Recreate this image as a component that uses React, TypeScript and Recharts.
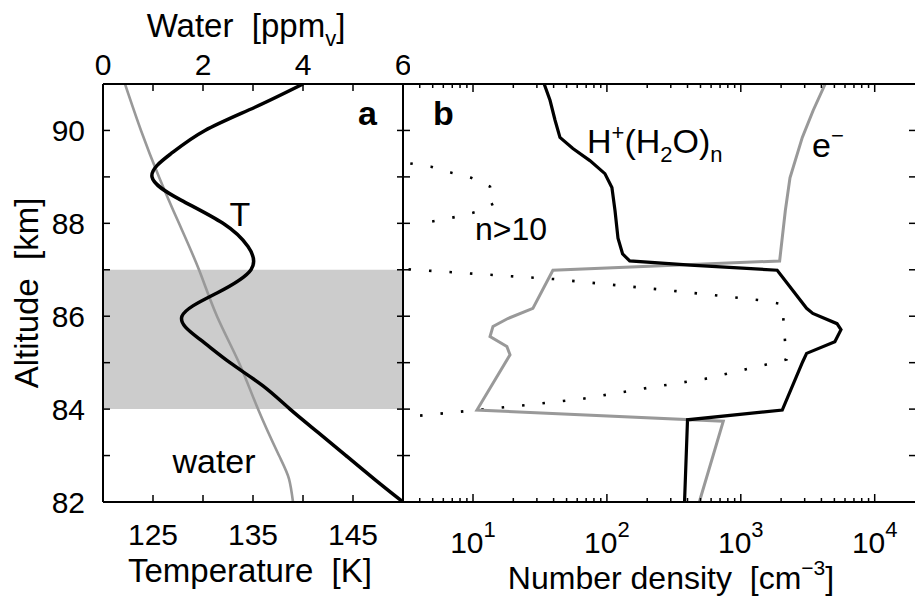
import React from "react";
import { LineChart, Line, XAxis, YAxis, ReferenceArea } from "recharts";

const FONT = '"Liberation Sans", Arial, Helvetica, sans-serif';

// shared altitude axis [km]
const ALT_DOMAIN: [number, number] = [82, 91];
const ALT_TICKS = [82, 83, 84, 85, 86, 87, 88, 89, 90];
const ALT_LABELS = [82, 84, 86, 88, 90];

// panel a axes
const TEMP_DOMAIN: [number, number] = [120, 150];
const TEMP_TICKS = [125, 130, 135, 140, 145];
const TEMP_LABELS = [125, 135, 145];
const WATER_DOMAIN: [number, number] = [0, 6];
const WATER_TICKS = [0, 1, 2, 3, 4, 5, 6];
const WATER_LABELS = [0, 2, 4, 6];
const PARTICLE_LAYER = [84, 87];

// temperature profile [K]
const T_ALT = [91, 90.5, 90, 89.5, 89, 88.5, 88, 87.5, 87, 86.5, 86, 85.5, 85, 84.5, 84, 83.5, 83, 82.5, 82];
const T_VAL = [140, 135.2, 130.2, 126.8, 124.9, 127.8, 132, 134.5, 134.8, 131.4, 127.9, 129.7, 132.7, 136, 138.7, 141.5, 144.3, 147.1, 150];

// water vapour [ppmv]
const W_ALT = [91, 90, 89, 88, 87, 86, 85, 84, 83, 82.5, 82];
const W_VAL = [0.44, 0.76, 1.12, 1.52, 1.92, 2.28, 2.72, 3.1, 3.52, 3.72, 3.8];

// panel b axis (log)
const DENS_DOMAIN: [number, number] = [3, 20000];
const DENS_MAJOR = [10, 100, 1000, 10000];
const DENS_MINOR = [4, 5, 6, 7, 8, 9, 20, 30, 40, 50, 60, 70, 80, 90, 200, 300, 400, 500, 600, 700, 800, 900, 2000, 3000, 4000, 5000, 6000, 7000, 8000, 9000];

// H+(H2O)n [cm^-3]
const ION_ALT = [91, 90.65, 90.22, 89.85, 89.61, 89.35, 89.07, 88.77, 88.27, 87.68, 87.34, 87.19, 87.1, 86.99, 86.17, 86.06, 85.84, 85.71, 85.45, 85.2, 85.02, 83.98, 83.77, 82];
const ION_VAL = [34, 37.6, 41, 44.6, 55.7, 74.6, 96.6, 109, 115, 121, 131, 148, 420, 1870, 3100, 3450, 5230, 5600, 5040, 3100, 2900, 2040, 400, 380];

// electrons [cm^-3]
const E_ALT = [91, 90.43, 89.85, 88.98, 88.27, 87.19, 86.99, 86.17, 85.95, 85.78, 85.56, 85.35, 85.17, 83.98, 83.74, 82];
const E_VAL = [4270, 3470, 2880, 2330, 2150, 1950, 39.5, 28, 18.2, 14.1, 13.4, 17.9, 18.9, 10.7, 740, 490];

// n>10 clusters, two dotted pieces
const N1_ALT = [89.29, 89.22, 89.09, 88.98, 88.79, 88.44, 88.25, 88.14, 88.05, 87.97];
const N1_VAL = [3.4, 4.85, 6.9, 9.7, 13.4, 14.6, 10.7, 7.5, 5.2, 3.7];
const N2_ALT = [87.01, 86.8, 86.54, 86.34, 86.26, 85.07, 84.96, 84.65, 84.44, 84.22, 84.07, 83.98, 83.85];
const N2_VAL = [3.3, 40, 330, 1450, 2040, 2190, 1550, 537, 186, 65, 22, 10.7, 3.7];

const zip = (alt: number[], v: number[]) => alt.map((a, i) => ({ alt: a, v: v[i] }));

const tempData = zip(T_ALT, T_VAL);
const waterData = zip(W_ALT, W_VAL);
const ionData = zip(ION_ALT, ION_VAL);
const elecData = zip(E_ALT, E_VAL);
const n1Data = zip(N1_ALT, N1_VAL);
const n2Data = zip(N2_ALT, N2_VAL);

const AXIS_LINE = { stroke: "#000", strokeWidth: 2 };
const TICK_FONT = 30;

// custom ticks: matlab style, pointing into the plot, labels outside
const leftTick = (labels: number[]) => (p: any) => (
  <g>
    <line x1={p.x} y1={p.y} x2={p.x + 7} y2={p.y} stroke="#000" strokeWidth={1.5} />
    {labels.includes(p.payload.value) && (
      <text x={p.x - 18} y={p.y} dy="0.36em" textAnchor="end" fontSize={TICK_FONT} fontFamily={FONT} fill="#000">
        {p.payload.value}
      </text>
    )}
  </g>
);

const rightTick = (p: any) => (
  <line x1={p.x} y1={p.y} x2={p.x - 6} y2={p.y} stroke="#000" strokeWidth={1.5} />
);

const bottomTick = (labels: number[]) => (p: any) => (
  <g>
    <line x1={p.x} y1={p.y} x2={p.x} y2={p.y - 7} stroke="#000" strokeWidth={1.5} />
    {labels.includes(p.payload.value) && (
      <text x={p.x} y={p.y + 43} textAnchor="middle" fontSize={TICK_FONT} fontFamily={FONT} fill="#000">
        {p.payload.value}
      </text>
    )}
  </g>
);

const topTick = (labels: number[]) => (p: any) => (
  <g>
    <line x1={p.x} y1={p.y} x2={p.x} y2={p.y + 7} stroke="#000" strokeWidth={1.5} />
    {labels.includes(p.payload.value) && (
      <text x={p.x} y={p.y - 9} textAnchor="middle" fontSize={TICK_FONT} fontFamily={FONT} fill="#000">
        {p.payload.value}
      </text>
    )}
  </g>
);

const logBottomTick = (p: any) => {
  const v = p.payload.value;
  const major = DENS_MAJOR.includes(v);
  return (
    <g>
      <line x1={p.x} y1={p.y} x2={p.x} y2={p.y - (major ? 8 : 4)} stroke="#000" strokeWidth={1.5} />
      {major && (
        <text x={p.x} y={p.y + 51} textAnchor="middle" fontSize={TICK_FONT} fontFamily={FONT} fill="#000">
          10<tspan fontSize={22} dy={-16}>{Math.round(Math.log10(v))}</tspan>
        </text>
      )}
    </g>
  );
};

const logTopTick = (p: any) => {
  const major = DENS_MAJOR.includes(p.payload.value);
  return <line x1={p.x} y1={p.y} x2={p.x} y2={p.y + (major ? 8 : 4)} stroke="#000" strokeWidth={1.5} />;
};

const NB = "\u00a0";

export default function App() {
  return (
    <div style={{ position: "absolute", left: 0, top: 0, width: 916, height: 596, background: "#fff", fontFamily: FONT }}>
      {/* panel a */}
      <div style={{ position: "absolute", left: 0, top: 0 }}>
        <LineChart width={410} height={596} layout="vertical" margin={{ top: 0, right: 0, bottom: 0, left: 0 }}>
          <XAxis xAxisId="t" type="number" orientation="bottom" domain={TEMP_DOMAIN} ticks={TEMP_TICKS} interval={0}
            height={94} axisLine={AXIS_LINE} tickLine={false} tickSize={0} tickMargin={0} tick={bottomTick(TEMP_LABELS)} allowDataOverflow />
          <XAxis xAxisId="w" type="number" orientation="top" domain={WATER_DOMAIN} ticks={WATER_TICKS} interval={0}
            height={84} axisLine={AXIS_LINE} tickLine={false} tickSize={0} tickMargin={0} tick={topTick(WATER_LABELS)} allowDataOverflow />
          <YAxis yAxisId="l" type="number" dataKey="alt" orientation="left" reversed domain={ALT_DOMAIN} ticks={ALT_TICKS} interval={0}
            width={103} axisLine={AXIS_LINE} tickLine={false} tickSize={0} tickMargin={0} tick={leftTick(ALT_LABELS)} allowDataOverflow />
          <YAxis yAxisId="r" type="number" dataKey="alt" orientation="right" reversed domain={ALT_DOMAIN} ticks={ALT_TICKS} interval={0}
            width={7} axisLine={AXIS_LINE} tickLine={false} tickSize={0} tickMargin={0} tick={rightTick} allowDataOverflow />
          <ReferenceArea xAxisId="t" yAxisId="l" x1={TEMP_DOMAIN[0]} x2={TEMP_DOMAIN[1]} y1={PARTICLE_LAYER[0]} y2={PARTICLE_LAYER[1]}
            fill="#cccccc" fillOpacity={1} stroke="none" />
          <Line data={waterData} dataKey="v" xAxisId="w" yAxisId="l" type="natural" stroke="#999999" strokeWidth={2.6}
            dot={false} activeDot={false} isAnimationActive={false} />
          <Line data={tempData} dataKey="v" xAxisId="t" yAxisId="l" type="natural" stroke="#000" strokeWidth={3.5}
            dot={false} activeDot={false} isAnimationActive={false} />
          <text x={246} y={37} textAnchor="middle" fontSize={33} fontFamily={FONT}>
            {`Water${NB}${NB}[ppm`}<tspan fontSize={22} dy={9}>v</tspan><tspan dy={-9}>]</tspan>
          </text>
          <text x={250} y={582} textAnchor="middle" fontSize={33} fontFamily={FONT}>{`Temperature${NB}${NB}[K]`}</text>
          <text x={38} y={293} textAnchor="middle" fontSize={33} fontFamily={FONT} transform="rotate(-90 38 293)">
            {`Altitude${NB}${NB}[km]`}
          </text>
          <text x={358} y={125} fontSize={34} fontWeight="bold" fontFamily={FONT}>a</text>
          <text x={240} y={226} textAnchor="middle" fontSize={34} fontFamily={FONT}>T</text>
          <text x={214} y={473} textAnchor="middle" fontSize={34} fontFamily={FONT}>water</text>
          <text x={310} y={332} textAnchor="middle" fontSize={35} fontFamily={FONT} fill="#f6f6f6">particle</text>
          <text x={310} y={372} textAnchor="middle" fontSize={35} fontFamily={FONT} fill="#f6f6f6">layer</text>
        </LineChart>
      </div>

      {/* panel b */}
      <div style={{ position: "absolute", left: 0, top: 0 }}>
        <LineChart width={916} height={596} layout="vertical" margin={{ top: 0, right: 0, bottom: 0, left: 0 }}>
          <XAxis xAxisId="n" type="number" scale="log" orientation="bottom" domain={DENS_DOMAIN} ticks={[...DENS_MINOR, ...DENS_MAJOR]}
            interval={0} height={94} axisLine={AXIS_LINE} tickLine={false} tickSize={0} tickMargin={0} tick={logBottomTick} allowDataOverflow />
          <XAxis xAxisId="nt" type="number" scale="log" orientation="top" domain={DENS_DOMAIN} ticks={[...DENS_MINOR, ...DENS_MAJOR]}
            interval={0} height={84} axisLine={AXIS_LINE} tickLine={false} tickSize={0} tickMargin={0} tick={logTopTick} allowDataOverflow />
          <YAxis yAxisId="l" type="number" dataKey="alt" orientation="left" reversed domain={ALT_DOMAIN} ticks={ALT_TICKS} interval={0}
            width={403} axisLine={AXIS_LINE} tickLine={false} tickSize={0} tickMargin={0} tick={leftTick([])} allowDataOverflow />
          <YAxis yAxisId="r" type="number" dataKey="alt" orientation="right" reversed domain={ALT_DOMAIN} ticks={ALT_TICKS} interval={0}
            width={1} axisLine={false} tickLine={false} tickSize={0} tickMargin={0} tick={rightTick} allowDataOverflow />
          <Line data={n1Data} dataKey="v" xAxisId="n" yAxisId="l" type="linear" stroke="#000" strokeWidth={2.6} strokeDasharray="2.5 18"
            dot={false} activeDot={false} isAnimationActive={false} />
          <Line data={n2Data} dataKey="v" xAxisId="n" yAxisId="l" type="linear" stroke="#000" strokeWidth={2.6} strokeDasharray="2.5 18"
            dot={false} activeDot={false} isAnimationActive={false} />
          <Line data={elecData} dataKey="v" xAxisId="n" yAxisId="l" type="linear" stroke="#999999" strokeWidth={3}
            dot={false} activeDot={false} isAnimationActive={false} />
          <Line data={ionData} dataKey="v" xAxisId="n" yAxisId="l" type="linear" stroke="#000" strokeWidth={3.2}
            dot={false} activeDot={false} isAnimationActive={false} />
          <text x={671} y={589} textAnchor="middle" fontSize={32} fontFamily={FONT}>
            {`Number density${NB}${NB}[cm`}<tspan fontSize={21} dy={-14}>{"\u22123"}</tspan><tspan dy={14}>]</tspan>
          </text>
          <text x={433} y={125} fontSize={34} fontWeight="bold" fontFamily={FONT}>b</text>
          <text x={587} y={153} fontSize={34} fontFamily={FONT}>
            H<tspan fontSize={22} dy={-13}>+</tspan><tspan dy={13}>(H</tspan><tspan fontSize={22} dy={9}>2</tspan>
            <tspan dy={-9}>O)</tspan><tspan fontSize={22} dy={9}>n</tspan>
          </text>
          <text x={812} y={157} fontSize={34} fontFamily={FONT}>
            e<tspan fontSize={22} dy={-14}>{"\u2212"}</tspan>
          </text>
          <text x={475} y={240} fontSize={32} fontFamily={FONT}>n&gt;10</text>
        </LineChart>
      </div>
    </div>
  );
}
